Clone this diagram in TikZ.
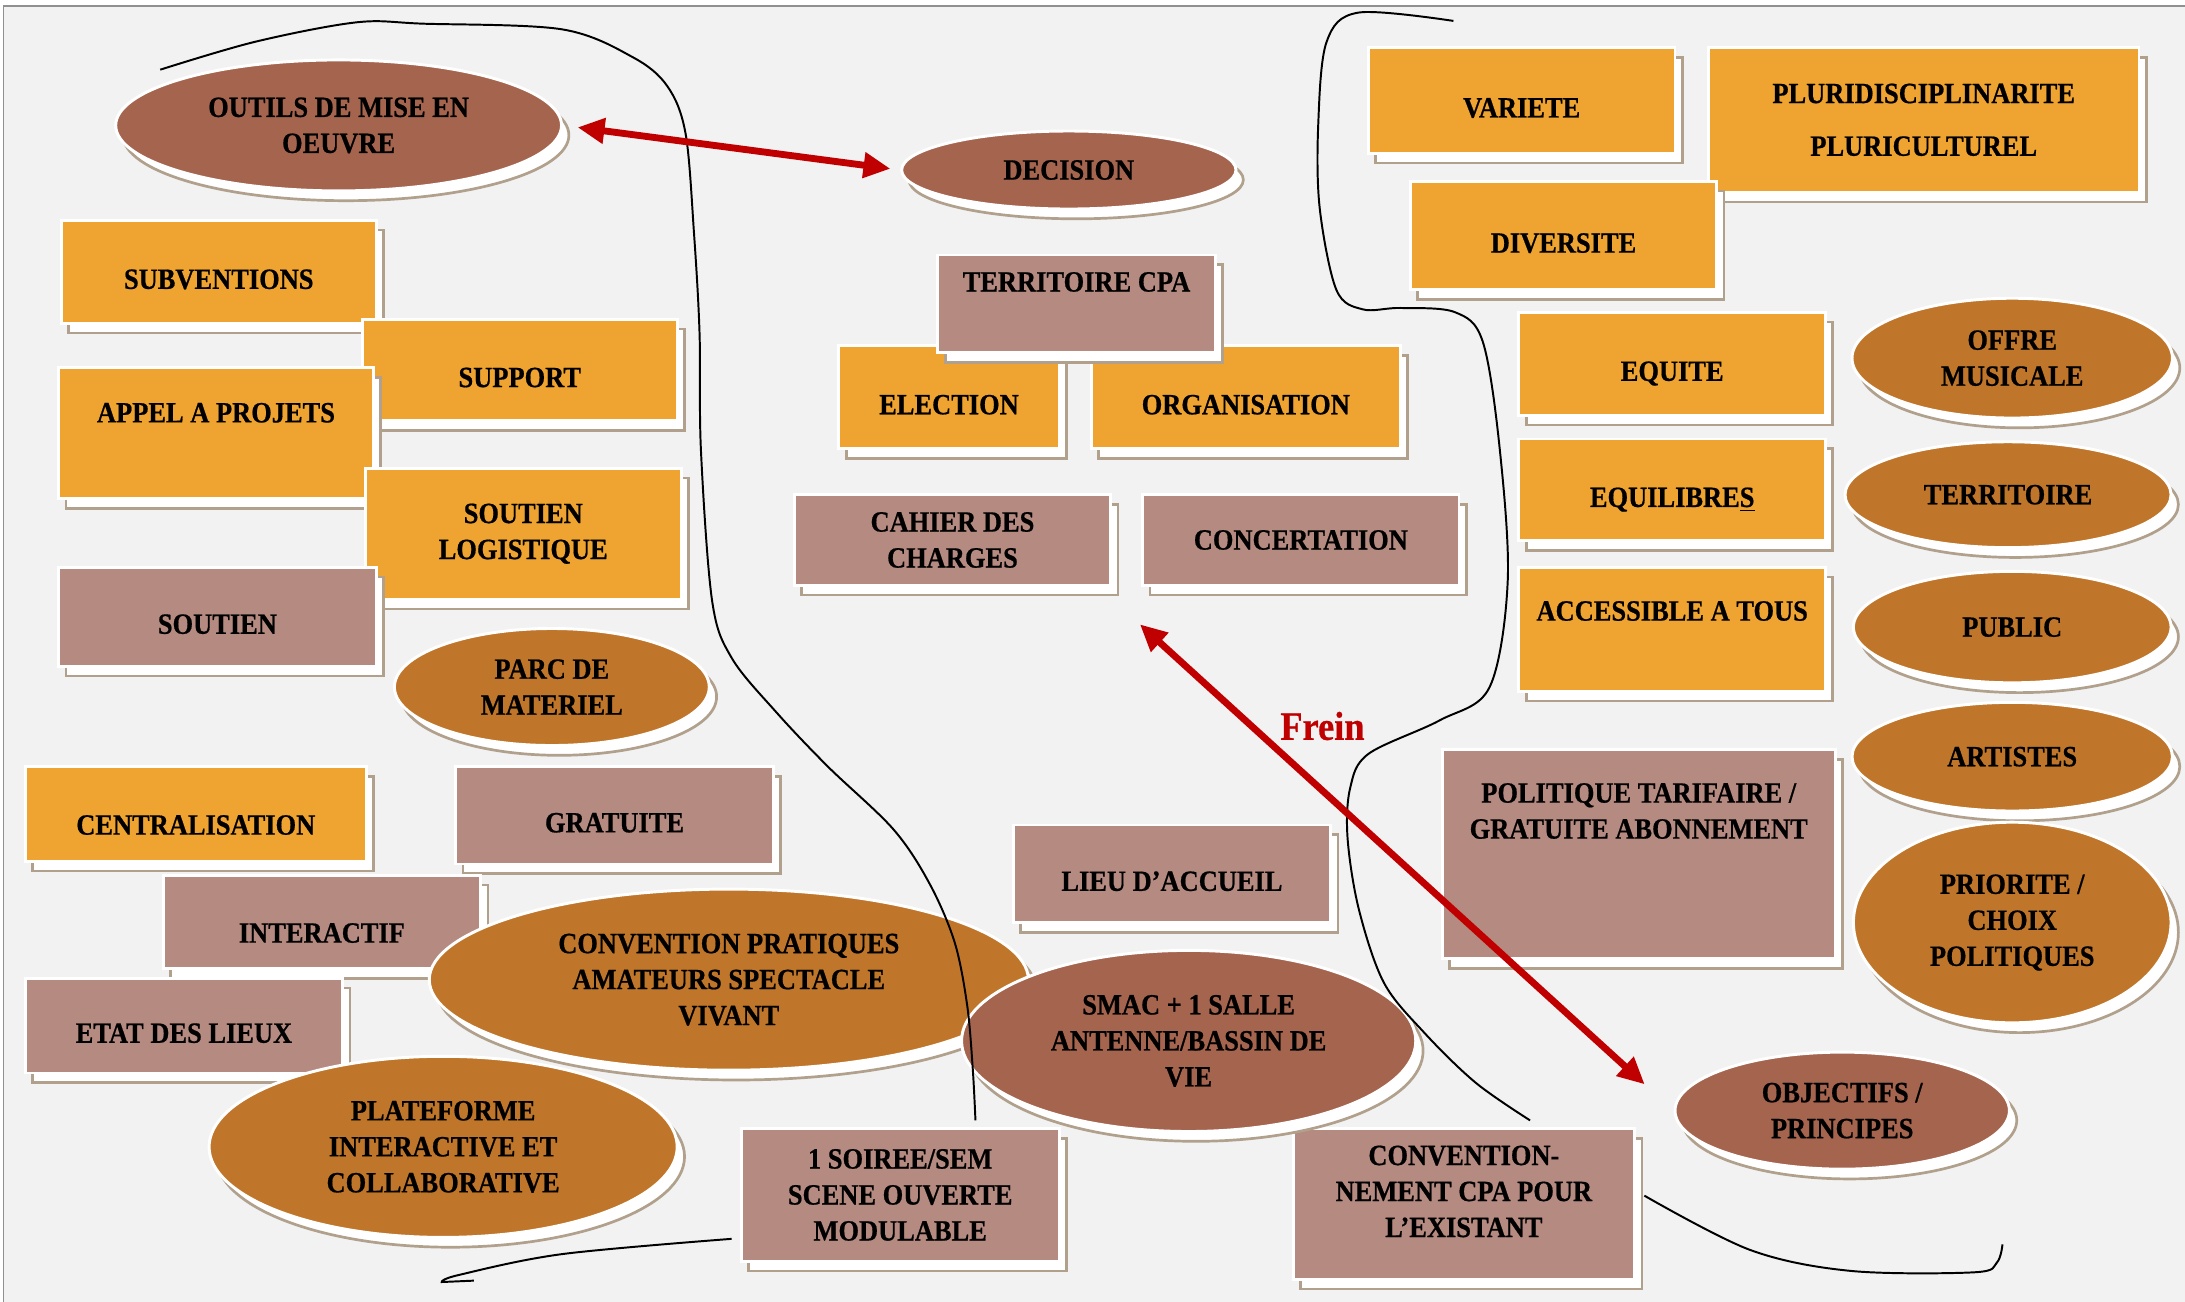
\documentclass[tikz,border=0pt]{standalone}
\usepackage{fontspec}
\setmainfont{Liberation Serif}[FakeStretch=0.9, BoldFeatures={FakeBold=0.6}]
\usetikzlibrary{shapes.geometric,shadows,arrows.meta}
\definecolor{fond}{HTML}{F2F2F2}
\definecolor{cadre}{HTML}{909090}
\definecolor{orangebox}{HTML}{EFA330}
\definecolor{rosebox}{HTML}{B58A80}
\definecolor{brunovale}{HTML}{A5644E}
\definecolor{orangeovale}{HTML}{C0762A}
\definecolor{ombre}{HTML}{B0A08C}
\definecolor{rouge}{HTML}{C00000}
\tikzset{
	txt/.style={font=\fontsize{12pt}{14.7pt}\selectfont\bfseries, align=center},
	forme/.style={txt, draw=white, line width=1.2pt, inner sep=0pt,
		general shadow={fill=white, draw=ombre, line width=1.1pt, shadow xshift=3pt, shadow yshift=-4pt}},
	obox/.style={forme, rectangle, fill=orangebox},
	pbox/.style={forme, rectangle, fill=rosebox},
	bovale/.style={forme, ellipse, fill=brunovale},
	oovale/.style={forme, ellipse, fill=orangeovale},
	one/.style={text height=14pt, text depth=0pt},
	fleche/.style={draw=rouge, line width=2.8pt, arrows={Triangle[length=11pt,width=10pt]-Triangle[length=11pt,width=10pt]}},
	contour/.style={draw=black, line width=0.8pt},
	frein/.style={text=rouge, font=\fontsize{16.5pt}{19pt}\selectfont\bfseries},
}
\begin{document}
\begin{tikzpicture}[x=0.02cm, y=-0.02cm]
	\useasboundingbox (0,0) rectangle (1568,934);
	\fill[white] (0,0) rectangle (1568,934);
	\fill[fond] (2.5,4.5) rectangle (1568,934);
	\draw[cadre, line width=0.8pt] (2.5,934) -- (2.5,4.5) -- (1568,4.5);

	\node[bovale, minimum width=6.4cm, minimum height=1.88cm] (outils) at (243,90) {OUTILS DE MISE EN\\OEUVRE};
	\node[bovale, minimum width=4.8cm, minimum height=1.12cm] (decision) at (767,122) {DECISION};

	\node[obox, one, minimum width=4.52cm, minimum height=1.48cm] (subv) at (157,195) {SUBVENTIONS};
	\node[obox, one, minimum width=4.52cm, minimum height=1.46cm] (support) at (373,265.5) {SUPPORT};
	\node[obox, text height=8pt, text depth=17pt, minimum width=4.52cm, minimum height=1.88cm] (appel) at (155,311) {APPEL A PROJETS};
	\node[obox, minimum width=4.54cm, minimum height=1.88cm] (soutlog) at (375.5,383) {SOUTIEN\\LOGISTIQUE};
	\node[pbox, one, minimum width=4.56cm, minimum height=1.42cm] (soutien) at (156,442.5) {SOUTIEN};
	\node[oovale, minimum width=4.52cm, minimum height=1.68cm] (parc) at (396,493) {PARC DE\\MATERIEL};

	\node[obox, text height=17pt, text depth=0pt, minimum width=4.9cm, minimum height=1.36cm] (centr) at (140.5,584) {CENTRALISATION};
	\node[pbox, one, minimum width=4.56cm, minimum height=1.4cm] (gratuite) at (441,585) {GRATUITE};
	\node[pbox, text height=17pt, text depth=0pt, minimum width=4.56cm, minimum height=1.34cm] (interactif) at (231,661.5) {INTERACTIF};
	\node[pbox, one, minimum width=4.56cm, minimum height=1.36cm] (etat) at (132,736) {ETAT DES LIEUX};
	\node[oovale, minimum width=8.6cm, minimum height=2.6cm] (convpa) at (523,703) {CONVENTION PRATIQUES\\AMATEURS SPECTACLE\\VIVANT};
	\node[oovale, minimum width=6.72cm, minimum height=2.6cm] (plateforme) at (318,823) {PLATEFORME\\INTERACTIVE ET\\COLLABORATIVE};

	\node[obox, one, minimum width=3.16cm, minimum height=1.48cm] (election) at (681,285) {ELECTION};
	\node[obox, one, minimum width=4.44cm, minimum height=1.48cm] (organisation) at (894,285) {ORGANISATION};
	\node[pbox, text height=8pt, text depth=18pt, minimum width=3.98cm, minimum height=1.4cm] (territcpa) at (772.5,218) {TERRITOIRE CPA};
	\node[pbox, minimum width=4.54cm, minimum height=1.3cm] (cahier) at (683.5,387.5) {CAHIER DES\\CHARGES};
	\node[pbox, minimum width=4.54cm, minimum height=1.3cm] (concert) at (933.5,387.5) {CONCERTATION};

	\node[obox, one, minimum width=4.4cm, minimum height=1.52cm] (variete) at (1092,72) {VARIETE};
	\node[obox, minimum width=6.18cm, minimum height=2.08cm] (pluri) at (1380.5,86) {PLURIDISCIPLINARITE\\[6.8pt]PLURICULTUREL};
	\node[obox, one, minimum width=4.4cm, minimum height=1.56cm] (diversite) at (1122,169) {DIVERSITE};
	\node[obox, one, minimum width=4.4cm, minimum height=1.48cm] (equite) at (1200,261) {EQUITE};
	\node[obox, one, minimum width=4.4cm, minimum height=1.46cm] (equilibres) at (1200,351.5) {EQUILIBRE\underline{S}};
	\node[obox, text height=8pt, text depth=15pt, minimum width=4.4cm, minimum height=1.78cm] (accessible) at (1200,451.5) {ACCESSIBLE A TOUS};

	\node[oovale, minimum width=4.6cm, minimum height=1.72cm] (offre) at (1444,257) {OFFRE\\MUSICALE};
	\node[oovale, minimum width=4.68cm, minimum height=1.52cm] (territoire) at (1441,355) {TERRITOIRE};
	\node[oovale, minimum width=4.56cm, minimum height=1.6cm] (public) at (1444,450) {PUBLIC};
	\node[oovale, minimum width=4.6cm, minimum height=1.56cm] (artistes) at (1444,543) {ARTISTES};
	\node[oovale, minimum width=4.56cm, minimum height=2.88cm] (priorite) at (1444,662) {PRIORITE /\\CHOIX\\POLITIQUES};

	\node[pbox, minimum width=5.64cm, minimum height=3cm] (tarif) at (1176,613) {};
	\node[txt] (tarif-txt) at (1176,582) {POLITIQUE TARIFAIRE /\\GRATUITE ABONNEMENT};
	\node[pbox, one, minimum width=4.56cm, minimum height=1.4cm] (lieu) at (841,627) {LIEU D’ACCUEIL};

	\node[pbox, minimum width=4.56cm, minimum height=1.9cm] (soiree) at (646,857.5) {1 SOIREE/SEM\\SCENE OUVERTE\\MODULABLE};
	\node[pbox, minimum width=4.9cm, minimum height=2.16cm] (convex) at (1050.5,864) {};
	\node[txt] (convex-txt) at (1050.5,855) {CONVENTION-\\NEMENT CPA POUR\\L’EXISTANT};
	\node[bovale, minimum width=6.52cm, minimum height=2.6cm] (smac) at (853,747) {SMAC + 1 SALLE\\ANTENNE/BASSIN DE\\VIE};
	\node[bovale, minimum width=4.8cm, minimum height=1.68cm] (objectifs) at (1322,797) {OBJECTIFS /\\PRINCIPES};

	\draw[contour] plot[smooth, tension=0.55] coordinates {(115,50) (183,30) (256,16) (304,17) (403,21) (454,41) (479,62) (492,96) (498,167) (502,239) (503,323) (511,431) (525,472) (557,511) (594,550) (641,595) (667,634) (685,676) (694,721) (698,766) (700,804)};
	\draw[contour] plot[smooth, tension=0.55] coordinates {(1043,15) (975,9) (952,30) (946,89) (947,149) (959,208) (978,222) (1005,221) (1044,224) (1064,245) (1076,320) (1082,416) (1069,493) (1033,517) (982,541) (969,565) (967,601) (975,652) (993,705) (1022,741) (1059,777) (1098,804)};
	\draw[contour] plot[smooth, tension=0.55] coordinates {(525,889) (403,900) (329,915) (317,920)} -- (340,919);
	\draw[contour] plot[smooth, tension=0.55] coordinates {(1180,858) (1256,897) (1328,912) (1417,913) (1433,906) (1437,893)};

	\coordinate (frein-top) at (818,448);
	\draw[fleche, shorten <=6pt, shorten >=4pt] (outils.east) -- (decision.west);
	\draw[fleche, shorten >=0.56cm] (frein-top) -- (objectifs.west);
	\node[frein] (frein) at (949,521) {Frein};
\end{tikzpicture}
\end{document}
